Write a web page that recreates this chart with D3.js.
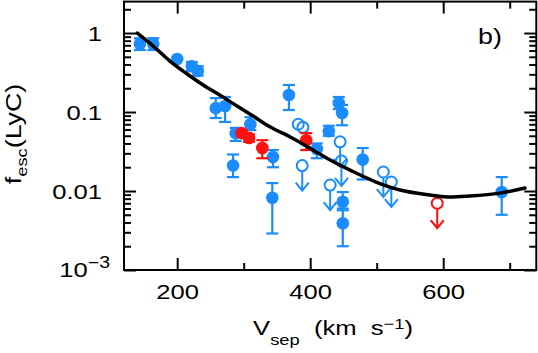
<!DOCTYPE html>
<html>
<head>
<meta charset="utf-8">
<script src="https://cdn.jsdelivr.net/npm/d3@7"></script>
<style>
    html, body { margin: 0; padding: 0; background: #fff; }
    svg { display: block; font-family: "Liberation Sans", Arial, sans-serif; }
</style>
</head>
<body>
<div id="chart"></div>
<script>
// fit curve
var curveV = [140, 164, 189, 215, 239, 264, 290, 314, 340, 370, 394, 430, 460, 499, 535, 580, 606, 640, 685, 723];
var curveF = [1.0, 0.684, 0.442, 0.303, 0.220, 0.164, 0.119, 0.089, 0.0646, 0.0483, 0.0371, 0.0247, 0.0184, 0.0130, 0.0103, 0.0089, 0.0084, 0.00865, 0.0094, 0.0109];

// detections (blue)
var blueV  = [144, 164, 200, 222, 231, 258, 272, 288, 310, 284, 343, 344, 368, 410, 428, 443, 448, 449, 449, 479, 688];
var blueF  = [0.73, 0.73, 0.47, 0.38, 0.33, 0.112, 0.119, 0.054, 0.070, 0.021, 0.0082, 0.027, 0.164, 0.034, 0.057, 0.130, 0.097, 0.0073, 0.0039, 0.025, 0.0097];
var blueLo = [0.61, 0.61, null, 0.33, 0.29, 0.084, 0.075, 0.043, 0.059, 0.015, 0.0029, 0.020, 0.106, 0.026, 0.050, 0.109, 0.068, 0.0057, 0.0020, 0.014, 0.0050];
var blueHi = [0.86, 0.86, null, 0.43, 0.38, 0.150, 0.155, 0.063, 0.086, 0.029, 0.0126, 0.033, 0.220, 0.040, 0.067, 0.155, 0.123, 0.0097, 0.0060, 0.035, 0.0150];

// detections (red)
var redV  = [297, 308, 328, 394];
var redF  = [0.054, 0.047, 0.035, 0.044];
var redLo = [0.050, 0.042, 0.026, 0.033];
var redHi = [0.059, 0.052, 0.044, 0.054];

// open symbols
var blueOpenV = [382, 389];
var blueOpenF = [0.070, 0.064];
var blueLimV = [388, 430, 445, 447, 510, 522];
var blueLimF = [0.021, 0.0119, 0.042, 0.024, 0.0174, 0.0130];
var redLimV = [591];
var redLimF = [0.0070];

// ticks
var xMajor = [200, 400, 600];
var xMinor = [300, 500, 700];
var xLabels = ["200", "400", "600"];
var yMajor = [0.001, 0.01, 0.1, 1];
var yLabels = ["10", "0.01", "0.1", "1"];

var W = 538, H = 353;
var SX = 1.22;       // horizontal stretch of the lettering
var FS = 21;
var BLUE = "#1a8cff", RED = "#ff1010";

var x = d3.scaleLinear().domain([120, 740]).range([124, 536.3]);
var y = d3.scaleLog().domain([0.001, 2.5]).range([270, 1.6]);

var svg = d3.select("#chart").append("svg")
    .attr("width", W)
    .attr("height", H);

var yMinor = y.ticks().filter(function (d) {
    var l = Math.log10(d);
    return Math.abs(l - Math.round(l)) > 1e-6;
});

function styleAxis(g) {
    g.select(".domain").remove();
    g.selectAll("line").attr("stroke", "#000").attr("stroke-width", 2);
    g.attr("font-size", FS).attr("font-family", "'Liberation Sans', Arial, sans-serif");
}

// bottom
var gb = svg.append("g").attr("transform", "translate(0,270)")
    .call(d3.axisBottom(x).tickValues(xMajor).tickSize(-12).tickPadding(14)
        .tickFormat(function (d, i) { return xLabels[i]; }));
styleAxis(gb);
gb.selectAll("text").attr("fill", "#000").attr("transform", "scale(" + SX + ",1)");
svg.append("g").attr("transform", "translate(0,270)")
    .call(d3.axisBottom(x).tickValues(xMinor).tickSize(-7).tickFormat(""))
    .call(styleAxis);

// top
svg.append("g").attr("transform", "translate(0,1.6)")
    .call(d3.axisTop(x).tickValues(xMajor).tickSize(-12).tickFormat(""))
    .call(styleAxis);
svg.append("g").attr("transform", "translate(0,1.6)")
    .call(d3.axisTop(x).tickValues(xMinor).tickSize(-7).tickFormat(""))
    .call(styleAxis);

// left
var gl = svg.append("g").attr("transform", "translate(124,0)")
    .call(d3.axisLeft(y).tickValues(yMajor).tickSize(-12)
        .tickFormat(function (d, i) { return yLabels[i]; }));
styleAxis(gl);
gl.selectAll("text")
    .attr("fill", "#000")
    .attr("x", 0)
    .attr("dy", "0.35em")
    .attr("transform", function (d) {
        return "translate(" + (d === 0.001 ? -14 : -22) + ",0) scale(" + SX + ",1)";
    });
gl.selectAll("text").filter(function (d) { return d === 0.001; })
    .attr("dy", "0.30em")
    .append("tspan").attr("font-size", 16).attr("dy", -9).text("\u22123");
svg.append("g").attr("transform", "translate(124,0)")
    .call(d3.axisLeft(y).tickValues(yMinor).tickSize(-7).tickFormat(""))
    .call(styleAxis);

// right
svg.append("g").attr("transform", "translate(536.3,0)")
    .call(d3.axisRight(y).tickValues(yMajor).tickSize(-12).tickFormat(""))
    .call(styleAxis);
svg.append("g").attr("transform", "translate(536.3,0)")
    .call(d3.axisRight(y).tickValues(yMinor).tickSize(-7).tickFormat(""))
    .call(styleAxis);

// frame
svg.append("rect")
    .attr("x", 124).attr("y", 1.6)
    .attr("width", 536.3 - 124).attr("height", 270 - 1.6)
    .attr("fill", "none").attr("stroke", "#000").attr("stroke-width", 2);

// data
function pts(v, f, lo, hi) {
    return v.map(function (d, i) {
        return { v: d, f: f[i], lo: lo ? lo[i] : null, hi: hi ? hi[i] : null };
    });
}

var R = 6.3, CAP = 6, ARROW = 25;

function drawDetections(data, color) {
    var g = svg.append("g").attr("stroke", color).attr("fill", color).attr("stroke-width", 2.2);
    var eb = data.filter(function (d) { return d.lo != null; });
    g.selectAll(".eb").data(eb).enter().append("line")
        .attr("x1", function (d) { return x(d.v); })
        .attr("x2", function (d) { return x(d.v); })
        .attr("y1", function (d) { return y(d.lo); })
        .attr("y2", function (d) { return y(d.hi); });
    ["lo", "hi"].forEach(function (k) {
        g.selectAll(".cap-" + k).data(eb).enter().append("line")
            .attr("x1", function (d) { return x(d.v) - CAP; })
            .attr("x2", function (d) { return x(d.v) + CAP; })
            .attr("y1", function (d) { return y(d[k]); })
            .attr("y2", function (d) { return y(d[k]); });
    });
    g.selectAll("circle").data(data).enter().append("circle")
        .attr("cx", function (d) { return x(d.v); })
        .attr("cy", function (d) { return y(d.f); })
        .attr("r", R)
        .attr("stroke", "none");
}

function drawLimits(data, color, arrow) {
    var g = svg.append("g").attr("stroke", color).attr("fill", "none").attr("stroke-width", 2);
    if (arrow) {
        g.selectAll(".stem").data(data).enter().append("line")
            .attr("x1", function (d) { return x(d.v); })
            .attr("x2", function (d) { return x(d.v); })
            .attr("y1", function (d) { return y(d.f) + 5.5; })
            .attr("y2", function (d) { return y(d.f) + ARROW; });
        g.selectAll(".head").data(data).enter().append("polyline")
            .attr("points", function (d) {
                var cx = x(d.v), ty = y(d.f) + ARROW;
                return [[cx - 6.5, ty - 8], [cx, ty], [cx + 6.5, ty - 8]].join(" ");
            });
    }
    g.selectAll("circle").data(data).enter().append("circle")
        .attr("cx", function (d) { return x(d.v); })
        .attr("cy", function (d) { return y(d.f); })
        .attr("r", 5.5);
}

drawDetections(pts(blueV, blueF, blueLo, blueHi), BLUE);
drawLimits(pts(blueOpenV, blueOpenF), BLUE, false);
drawLimits(pts(blueLimV, blueLimF), BLUE, true);
drawDetections(pts(redV, redF, redLo, redHi), RED);
drawLimits(pts(redLimV, redLimF), RED, true);

// fit line
var line = d3.line()
    .x(function (d) { return x(d.v); })
    .y(function (d) { return y(d.f); })
    .curve(d3.curveCatmullRom);
svg.append("path")
    .datum(pts(curveV, curveF))
    .attr("d", line)
    .attr("fill", "none")
    .attr("stroke", "#000")
    .attr("stroke-width", 3.5)
    .attr("stroke-linecap", "round");

// panel tag
svg.append("text")
    .attr("transform", "translate(478,44) scale(" + SX + ",1)")
    .attr("font-size", FS + 1)
    .text("b)");

// axis titles
var xt = svg.append("text")
    .attr("transform", "translate(333,335) scale(" + SX + ",1)")
    .attr("text-anchor", "middle")
    .attr("font-size", FS);
xt.append("tspan").text("V");
xt.append("tspan").attr("font-size", 15).attr("dy", 10).text("sep");
xt.append("tspan").attr("dy", -10).text("  (km  s");
xt.append("tspan").attr("font-size", 15).attr("dy", -6).text("\u22121");
xt.append("tspan").attr("dy", 6).text(")");
xt.attr("xml:space", "preserve").style("white-space", "pre");

var yt = svg.append("text")
    .attr("transform", "translate(21,134) rotate(-90) scale(" + SX + ",1)")
    .attr("text-anchor", "middle")
    .attr("font-size", FS + 1);
yt.append("tspan").text("f");
yt.append("tspan").attr("font-size", 15).attr("dy", 6).text("esc");
yt.append("tspan").attr("dy", -6).text("(LyC)");
</script>
</body>
</html>
